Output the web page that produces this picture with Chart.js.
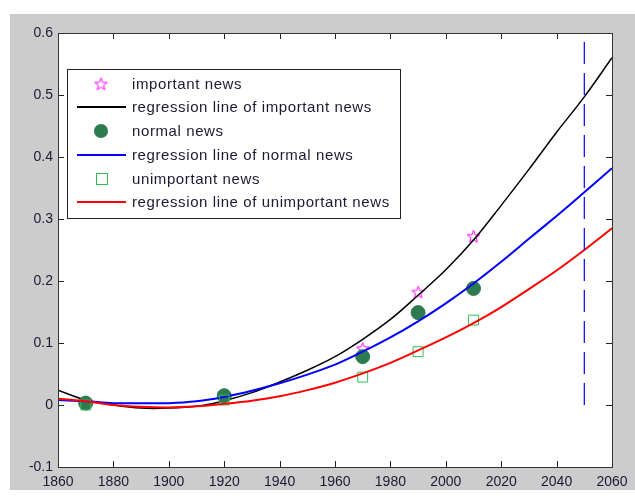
<!DOCTYPE html>
<html>
<head>
<meta charset="utf-8">
<script src="https://cdn.jsdelivr.net/npm/chart.js@4"></script>
<style>
html,body{margin:0;padding:0;background:#fff;}
#wrap{width:635px;height:497px;position:relative;}
</style>
</head>
<body>
<div id="wrap"><canvas id="c" width="635" height="497"></canvas></div>
<script>
// ---- data ----
const sampleYears = [1870, 1920, 1970, 1990, 2010];
const importantNews = [0.005, 0.016, 0.091, 0.182, 0.272];
const normalNews = [0.003, 0.015, 0.078, 0.149, 0.188];
const unimportantNews = [0.000, 0.008, 0.045, 0.086, 0.137];

const fitYears = [1860,1870,1880,1890,1900,1910,1920,1930,1940,1950,1960,1970,1980,1990,2000,2010,2020,2030,2040,2050,2060];
const fitImportant = [0.024,0.008,0.000,-0.005,-0.005,-0.002,0.007,0.020,0.037,0.056,0.078,0.106,0.138,0.177,0.218,0.266,0.322,0.380,0.440,0.497,0.560];
const fitNormal = [0.008,0.006,0.003,0.003,0.003,0.006,0.013,0.023,0.035,0.049,0.065,0.086,0.109,0.135,0.164,0.196,0.231,0.268,0.305,0.343,0.382];
const fitUnimportant = [0.010,0.006,0.000,-0.003,-0.004,-0.002,0.002,0.007,0.014,0.024,0.036,0.051,0.068,0.088,0.109,0.132,0.158,0.187,0.217,0.250,0.285];

const cutoffYear = 2050;
const cutoffRange = [0, 0.6];

const xTicks = [1860,1880,1900,1920,1940,1960,1980,2000,2020,2040,2060];
const yTicks = [-0.1,0,0.1,0.2,0.3,0.4,0.5,0.6];

const legendLabels = ['important news','regression line of important news','normal news','regression line of normal news','unimportant news','regression line of unimportant news'];

// ---- helpers ----
const pairs = (xs, ys) => xs.map((x, i) => ({x: x, y: ys[i]}));

function starCanvas(color, r) {
  const s = Math.ceil(r * 2 + 4);
  const cv = document.createElement('canvas');
  cv.width = s; cv.height = s;
  const g = cv.getContext('2d');
  const cx = s / 2, cy = s / 2 + 0.5;
  const ri = r * 0.42;
  g.beginPath();
  for (let i = 0; i < 10; i++) {
    const a = -Math.PI / 2 + i * Math.PI / 5;
    const rr = i % 2 === 0 ? r : ri;
    const px = cx + rr * Math.cos(a), py = cy + rr * Math.sin(a);
    if (i === 0) g.moveTo(px, py); else g.lineTo(px, py);
  }
  g.closePath();
  g.strokeStyle = color; g.lineWidth = 1;
  g.stroke();
  return cv;
}
const starImg = starCanvas('#ff00ff', 6.5);

const FONT = '"Liberation Sans", Arial, sans-serif';
const TEXT = '#1a1a33';

const bgPlugin = {
  id: 'bg',
  beforeDraw(chart) {
    const ctx = chart.ctx;
    ctx.save();
    ctx.fillStyle = '#ffffff';
    ctx.fillRect(0, 0, chart.width, chart.height);
    ctx.fillStyle = '#cccccc';
    ctx.fillRect(10, 14, chart.width - 10, 476);
    const a = chart.chartArea;
    ctx.fillStyle = '#ffffff';
    ctx.fillRect(a.left, a.top, a.right - a.left, a.bottom - a.top);
    ctx.restore();
  }
};

const frameLegendPlugin = {
  id: 'frameLegend',
  afterDraw(chart) {
    const ctx = chart.ctx;
    const a = chart.chartArea;
    const xs = chart.scales.x, ys = chart.scales.y;
    ctx.save();
    // ticks inward on all sides
    ctx.strokeStyle = '#222';
    ctx.lineWidth = 1;
    ctx.beginPath();
    xTicks.forEach(v => {
      const px = Math.round(xs.getPixelForValue(v)) + 0.5;
      ctx.moveTo(px, a.bottom); ctx.lineTo(px, a.bottom - 6);
      ctx.moveTo(px, a.top); ctx.lineTo(px, a.top + 6);
    });
    yTicks.forEach(v => {
      const py = Math.round(ys.getPixelForValue(v)) + 0.5;
      ctx.moveTo(a.left, py); ctx.lineTo(a.left + 6, py);
      ctx.moveTo(a.right, py); ctx.lineTo(a.right - 6, py);
    });
    ctx.stroke();
    ctx.strokeStyle = '#333';
    ctx.strokeRect(Math.round(a.left) + 0.5, Math.round(a.top) + 0.5, Math.round(a.right - a.left), Math.round(a.bottom - a.top));

    // legend box
    const lx = 67, ly = 69, lw = 333, lh = 149;
    ctx.fillStyle = '#fff';
    ctx.fillRect(lx, ly, lw, lh);
    ctx.strokeStyle = '#222';
    ctx.strokeRect(lx + 0.5, ly + 0.5, lw, lh);
    const rowY = [84, 107, 131, 155, 179, 202];
    ctx.font = '15px ' + FONT;
    if ('letterSpacing' in ctx) ctx.letterSpacing = '0.6px';
    ctx.textBaseline = 'middle';
    ctx.textAlign = 'left';
    chart.data.datasets.forEach((ds, i) => {
      if (i >= legendLabels.length) return;
      const y = rowY[i];
      if (ds.showLine) {
        ctx.strokeStyle = ds.borderColor;
        ctx.lineWidth = 2;
        ctx.beginPath(); ctx.moveTo(77, y); ctx.lineTo(126, y); ctx.stroke();
      } else if (ds.pointStyle === 'circle') {
        ctx.fillStyle = ds.pointBackgroundColor;
        ctx.beginPath(); ctx.arc(101, y, 7, 0, Math.PI * 2); ctx.fill();
      } else if (ds.pointStyle === 'rect') {
        ctx.strokeStyle = ds.pointBorderColor; ctx.lineWidth = 1;
        ctx.strokeRect(96.5, y - 5.5, 11, 11);
      } else {
        ctx.drawImage(starImg, 101 - starImg.width / 2, y - starImg.height / 2);
      }
      ctx.fillStyle = TEXT;
      ctx.fillText(legendLabels[i], 132, y + 1);
    });
    ctx.restore();
  }
};

const scatterBase = {type: 'scatter', showLine: false};
const lineBase = {type: 'line', showLine: true, pointRadius: 0, borderWidth: 2, tension: 0.35, fill: false};

new Chart(document.getElementById('c'), {
  type: 'scatter',
  data: {
    datasets: [
      Object.assign({}, scatterBase, {label: legendLabels[0], data: pairs(sampleYears, importantNews), pointStyle: starImg, pointRadius: 7, order: 6}),
      Object.assign({}, lineBase, {label: legendLabels[1], data: pairs(fitYears, fitImportant), borderColor: '#000000', borderWidth: 1.5, order: 5}),
      Object.assign({}, scatterBase, {label: legendLabels[2], data: pairs(sampleYears, normalNews), pointStyle: 'circle', pointRadius: 7, pointBackgroundColor: '#2e7a4f', pointBorderColor: '#2e7a4f', backgroundColor: '#2e7a4f', borderColor: '#2e7a4f', order: 4}),
      Object.assign({}, lineBase, {label: legendLabels[3], data: pairs(fitYears, fitNormal), borderColor: '#0000ff', order: 3}),
      Object.assign({}, scatterBase, {label: legendLabels[4], data: pairs(sampleYears, unimportantNews), pointStyle: 'rect', pointRadius: 7, pointBackgroundColor: 'rgba(0,0,0,0)', pointBorderColor: '#33bb55', pointBorderWidth: 1, borderColor: '#33bb55', backgroundColor: 'rgba(0,0,0,0)', order: 2}),
      Object.assign({}, lineBase, {label: legendLabels[5], data: pairs(fitYears, fitUnimportant), borderColor: '#ff0000', order: 1}),
      Object.assign({}, lineBase, {label: 'cutoff', data: cutoffRange.map(v => ({x: cutoffYear, y: v})), borderColor: '#0000ff', borderWidth: 1.2, borderDash: [22, 9], tension: 0, order: 0})
    ]
  },
  options: {
    responsive: false,
    animation: false,
    events: [],
    layout: {padding: {left: 0, top: 33, right: 23, bottom: 0}},
    plugins: {legend: {display: false}, tooltip: {enabled: false}},
    scales: {
      x: {
        type: 'linear', min: 1860, max: 2060,
        afterBuildTicks: s => { s.ticks = xTicks.map(v => ({value: v})); },
        afterFit: s => { s.height = 30; },
        grid: {display: false, drawTicks: false},
        border: {display: false},
        ticks: {padding: 7, color: TEXT, font: {family: FONT, size: 14}, callback: v => String(v), maxRotation: 0, autoSkip: false}
      },
      y: {
        type: 'linear', min: -0.1, max: 0.6,
        afterBuildTicks: s => { s.ticks = yTicks.map(v => ({value: v})); },
        afterFit: s => { s.width = 58; },
        grid: {display: false, drawTicks: false},
        border: {display: false},
        ticks: {padding: 5, color: TEXT, font: {family: FONT, size: 14}, callback: v => (Math.abs(v) < 1e-9 ? '0' : v.toFixed(1)), autoSkip: false}
      }
    }
  },
  plugins: [bgPlugin, frameLegendPlugin]
});
</script>
</body>
</html>
